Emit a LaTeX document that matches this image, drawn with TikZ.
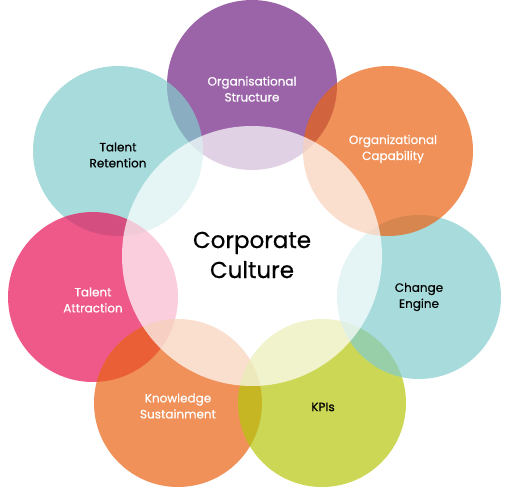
\documentclass[tikz,border=0pt]{standalone}
\usepackage{fontspec}
\setmainfont{Poppins}[FakeBold=0.5]
\definecolor{cteal}{RGB}{131,204,204}
\definecolor{cpurple}{RGB}{112,34,131}
\definecolor{corange}{RGB}{234,98,19}
\definecolor{cpink}{RGB}{231,19,88}
\definecolor{clime}{RGB}{182,199,13}
\begin{document}
\begin{tikzpicture}[x=1pt,y=-1pt,
  petal/.style={circle,inner sep=0pt,minimum size=170pt,fill opacity=0.7,text opacity=1,
    align=center,font=\fontsize{12}{16}\selectfont},
  core/.style={circle,inner sep=0pt,minimum size=260pt,fill=white,fill opacity=0.7,text opacity=1,
    align=center,font=\fontsize{23}{30}\selectfont}]
\useasboundingbox (0,0) rectangle (510,500);
\node[petal,fill=cpurple,text=white] (struct) at (252,85) {};
\node[petal,fill=cteal,text=black] (ret) at (118,151) {};
\node[petal,fill=cpink,text=white] (attr) at (93,297) {};
\node[petal,fill=corange,text=white,minimum size=168pt] (know) at (178,403) {};
\node[petal,fill=clime,text=black,minimum size=168pt] (kpi) at (322,403) {};
\node[petal,fill=cteal,text=black,minimum size=164pt] (chg) at (419,297) {};
\node[petal,fill=corange,text=white] (cap) at (388,151) {};
\node[core] (core) at (252,256) {};
\begin{scope}[every node/.style={align=center,font=\fontsize{12}{16}\selectfont}]
\node[text=white] (t1) at (252,89) {Organisational\\Structure};
\node[text=black] (t2) at (118,155) {Talent\\Retention};
\node[text=white] (t3) at (93,300) {Talent\\Attraction};
\node[text=white] (t4) at (178,406) {Knowledge\\Sustainment};
\node[text=black] (t5) at (323,407) {KPIs};
\node[text=black] (t6) at (419,297) {Change\\Engine};
\node[text=white] (t7) at (393,149) {Organizational\\Capability};
\end{scope}
\node[align=center,font=\fontsize{23}{30}\selectfont] (t0) at (252,255) {Corporate\\Culture};
\end{tikzpicture}
\end{document}
